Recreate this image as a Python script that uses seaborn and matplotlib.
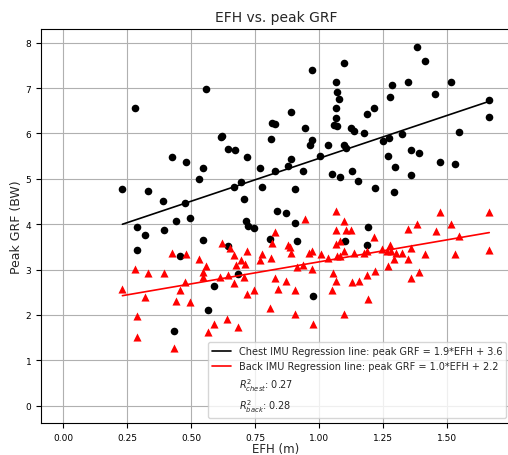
import numpy as np
import matplotlib
matplotlib.use("Agg")
import matplotlib.pyplot as plt
import seaborn as sns

# EFH (m) and peak GRF (BW)
chest_efh = [0.560, 0.281, 0.617, 0.621, 0.646, 0.672, 0.426, 0.480, 0.546, 0.531,
             0.232, 0.333, 0.392, 0.477, 0.667, 0.696, 0.441, 0.496, 0.288, 0.395,
             0.322, 0.290, 0.457, 0.546, 0.591, 0.565, 0.434, 0.643, 0.682, 0.973,
             1.099, 1.068, 1.070, 1.078, 1.068, 1.067, 1.057, 1.072, 0.889, 0.816,
             0.827, 0.944, 1.186, 1.125, 1.137, 1.174, 0.813, 0.973, 0.963, 1.034,
             1.099, 1.105, 0.717, 0.889, 0.880, 0.770, 1.005, 0.829, 0.938, 1.049,
             1.082, 1.129, 1.154, 0.776, 0.906, 0.706, 0.837, 0.872, 0.713, 0.724,
             0.745, 0.906, 1.193, 1.381, 1.415, 1.285, 1.348, 1.514, 1.276, 1.455,
             1.665, 1.665, 1.215, 1.251, 1.272, 1.324, 1.547, 1.268, 1.358, 1.391,
             1.297, 1.473, 1.533, 1.358, 1.220, 1.292, 0.809, 0.914, 1.103, 1.188,
             0.975]
chest_grf = [6.98, 6.55, 5.91, 5.95, 5.66, 5.64, 5.49, 5.38, 5.23, 5.00,
             4.77, 4.74, 4.51, 4.46, 4.81, 4.92, 4.07, 4.14, 3.93, 3.88,
             3.76, 3.43, 3.31, 3.65, 2.63, 2.11, 1.65, 3.52, 2.91, 7.40,
             7.56, 7.14, 6.92, 6.75, 6.55, 6.33, 6.19, 6.16, 6.48, 6.22,
             6.20, 6.12, 6.43, 6.11, 6.06, 6.01, 5.87, 5.85, 5.75, 5.75,
             5.74, 5.67, 5.48, 5.43, 5.28, 5.24, 5.50, 5.18, 5.17, 5.10,
             5.05, 5.18, 4.95, 4.83, 4.77, 4.56, 4.30, 4.25, 4.08, 3.97,
             3.92, 4.03, 3.94, 7.91, 7.60, 7.07, 7.13, 7.13, 6.81, 6.87,
             6.74, 6.36, 6.57, 5.84, 5.89, 5.99, 6.02, 5.51, 5.63, 5.57,
             5.25, 5.38, 5.33, 5.08, 4.80, 4.71, 3.67, 3.63, 3.62, 3.55,
             2.42]

back_efh = [0.281, 0.333, 0.393, 0.232, 0.322, 0.426, 0.482, 0.477, 0.457, 0.441,
            0.497, 0.288, 0.290, 0.434, 0.531, 0.560, 0.546, 0.546, 0.620, 0.652,
            0.668, 0.676, 0.614, 0.646, 0.667, 0.591, 0.565, 0.642, 0.682, 0.944,
            1.066, 1.097, 1.473, 1.665, 1.514, 1.381, 0.827, 1.068, 1.105, 1.126,
            0.815, 0.880, 0.888, 0.889, 1.066, 1.083, 1.098, 0.960, 0.973, 1.007,
            1.037, 1.072, 1.081, 1.136, 1.177, 1.189, 0.717, 0.776, 0.695, 0.770,
            0.813, 0.712, 0.913, 0.939, 0.973, 0.707, 0.829, 0.871, 1.055, 1.068,
            1.130, 1.157, 1.186, 0.746, 0.720, 0.839, 0.906, 1.051, 1.193, 0.810,
            0.905, 1.099, 0.975, 1.346, 1.457, 1.214, 1.547, 1.276, 1.247, 1.267,
            1.358, 1.283, 1.301, 1.326, 1.415, 1.531, 1.665, 1.293, 1.348, 1.271,
            1.220, 1.389, 1.358]
back_grf = [3.01, 2.92, 2.92, 2.57, 2.40, 3.37, 3.35, 2.72, 2.56, 2.30,
            2.28, 1.98, 1.52, 1.28, 3.24, 3.08, 2.95, 2.83, 3.58, 3.48,
            3.33, 3.11, 2.83, 2.87, 2.71, 1.81, 1.63, 1.91, 1.74, 4.11,
            4.30, 4.08, 4.27, 4.26, 4.00, 4.00, 3.82, 3.88, 3.88, 3.88,
            3.59, 3.54, 3.50, 3.36, 3.57, 3.63, 3.41, 3.37, 3.40, 3.34,
            3.26, 3.29, 3.31, 3.37, 3.37, 3.42, 3.40, 3.35, 3.22, 3.21,
            3.26, 3.13, 3.06, 3.11, 3.01, 2.83, 2.81, 2.74, 2.92, 2.74,
            2.72, 2.75, 2.89, 2.56, 2.46, 2.58, 2.54, 2.55, 2.35, 2.16,
            2.03, 2.03, 1.80, 3.89, 3.85, 3.72, 3.75, 3.55, 3.45, 3.42,
            3.48, 3.41, 3.36, 3.36, 3.35, 3.34, 3.44, 3.24, 3.24, 3.07,
            2.96, 2.95, 2.82]

# regression lines (slope, intercept) as drawn in the reference
chest_fit = (1.89, 3.56)
back_fit = (0.97, 2.20)
r2_chest = 0.27
r2_back = 0.28

sns.set_style("ticks", {"axes.grid": True, "grid.color": "#b0b0b0",
                        "axes.edgecolor": "black", "xtick.color": "black",
                        "ytick.color": "black"})
plt.rcParams['font.family'] = ['DejaVu Sans']

fig = plt.figure(figsize=(5.08, 4.56), dpi=100)
ax = fig.add_axes([41 / 508, 1 - 424 / 456, 470 / 508, 394 / 456])

sns.scatterplot(x=chest_efh, y=chest_grf, color="black", marker="o", s=30,
                linewidth=0, ax=ax, zorder=3)
sns.scatterplot(x=back_efh, y=back_grf, color="red", marker="^", s=34,
                linewidth=0, ax=ax, zorder=3)

xc = np.array([min(chest_efh), max(chest_efh)])
xb = np.array([min(back_efh), max(back_efh)])
ax.plot(xc, chest_fit[0] * xc + chest_fit[1], color="black", lw=1.2, zorder=4,
        label="Chest IMU Regression line: peak GRF = 1.9*EFH + 3.6")
ax.plot(xb, back_fit[0] * xb + back_fit[1], color="red", lw=1.2, zorder=4,
        label="Back IMU Regression line: peak GRF = 1.0*EFH + 2.2")
ax.plot([], [], " ", label=r"$R^2_{chest}$: " + f"{r2_chest:.2f}")
ax.plot([], [], " ", label=r"$R^2_{back}$: " + f"{r2_back:.2f}")

ax.set_xlim(-0.086, 1.75)
ax.set_ylim(-0.38, 8.3)
ax.set_xticks([0.0, 0.25, 0.5, 0.75, 1.0, 1.25, 1.5])
ax.set_xticklabels(["0.00", "0.25", "0.50", "0.75", "1.00", "1.25", "1.50"])
ax.set_yticks(range(0, 9))
ax.tick_params(labelsize=6.5, length=3.5, width=0.8)
ax.grid(True, color="#b0b0b0", linewidth=0.8)
for sp in ax.spines.values():
    sp.set_color("black")
    sp.set_linewidth(0.8)

ax.set_title("EFH vs. peak GRF", fontsize=10)
ax.set_xlabel("EFH (m)", fontsize=8.5, labelpad=0)
ax.set_ylabel("Peak GRF (BW)", fontsize=9, labelpad=1.5)
ax.legend(loc="lower right", fontsize=7, frameon=True)

fig.savefig("out.png", dpi=100)
